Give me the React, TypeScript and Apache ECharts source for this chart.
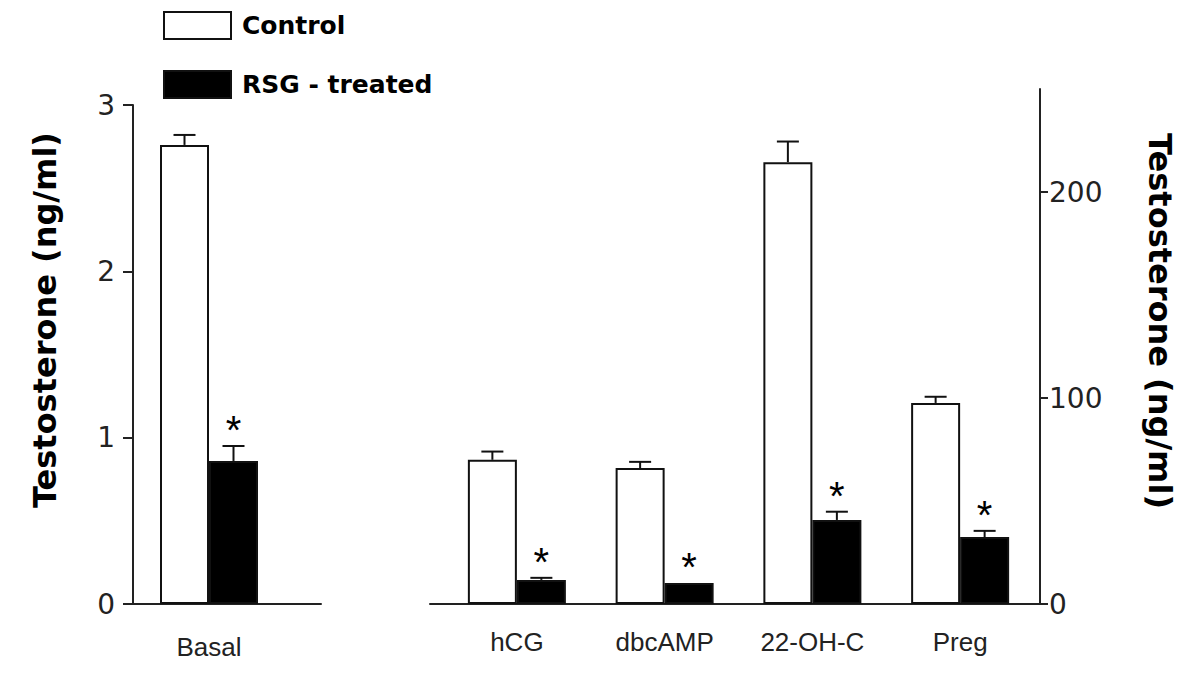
import React, { useEffect, useRef } from 'react';
import * as echarts from 'echarts';

// ---- Data ----
const basalCategories = ['Basal'];
const basalControl = [2.76];
const basalControlErr = [0.06];
const basalRsg = [0.86];
const basalRsgErr = [0.09];
const basalSignificant = [1];

const stimCategories = ['hCG', 'dbcAMP', '22-OH-C', 'Preg'];
const stimControl = [70, 66, 214.5, 97.6];
const stimControlErr = [4, 3, 10, 3];
const stimRsg = [11.7, 10.2, 40.8, 32.5];
const stimRsgErr = [1, 0, 4, 3];
const stimSignificant = [1, 1, 1, 1];

const leftTicks = [0, 1, 2, 3];
const rightTicks = [0, 100, 200];

const legendNames = ['Control', 'RSG - treated'];
const axisTitle = 'Testosterone (ng/ml)';

const BAR_W = 49;
const INK = '#111';

function errorSeries(
  xAxisIndex: number,
  yAxisIndex: number,
  values: number[],
  errs: number[],
  offset: number,
  stars: number[] | null
) {
  return {
    type: 'custom',
    xAxisIndex,
    yAxisIndex,
    silent: true,
    z: 5,
    data: values.map((v, i) => [i, v, errs[i], stars ? stars[i] : 0]),
    renderItem: (params: any, api: any) => {
      const i = api.value(0);
      const v = api.value(1);
      const e = api.value(2);
      const s = api.value(3);
      const base = api.coord([i, v]);
      const top = api.coord([i, v + e]);
      const x = base[0] + offset;
      const children: any[] = [];
      if (e > 0) {
        children.push({
          type: 'line',
          shape: { x1: x, y1: base[1], x2: x, y2: top[1] },
          style: { stroke: INK, lineWidth: 2 },
        });
        children.push({
          type: 'line',
          shape: { x1: x - 11, y1: top[1], x2: x + 11, y2: top[1] },
          style: { stroke: INK, lineWidth: 2 },
        });
      }
      if (s) {
        children.push({
          type: 'text',
          x: x,
          y: top[1] - 16,
          style: {
            text: '*',
            fill: '#000',
            fontSize: 40,
            fontFamily: 'Liberation Sans',
            textAlign: 'center',
            textVerticalAlign: 'middle',
          },
        });
      }
      return { type: 'group', children };
    },
  };
}

const numStyle = { fontFamily: 'DejaVu Sans', fontSize: 28, color: '#222' };
const catStyle = { fontFamily: 'Liberation Sans', fontSize: 26, color: '#222' };
const axisLine = { show: true, lineStyle: { color: '#222', width: 2 } };

export default function App() {
  const ref = useRef<HTMLDivElement>(null);
  useEffect(() => {
    if (!ref.current) return;
    const chart = echarts.init(ref.current, undefined, { renderer: 'svg' });
    const controlStyle = { color: '#fff', borderColor: INK, borderWidth: 2 };
    const rsgStyle = { color: '#000', borderColor: INK, borderWidth: 2 };
    const option: any = {
      animation: false,
      backgroundColor: '#fff',
      legend: {
        data: legendNames,
        orient: 'vertical',
        left: 163,
        top: 11,
        padding: 0,
        itemWidth: 67,
        itemHeight: 27,
        itemGap: 30,
        icon: 'rect',
        selectedMode: false,
        textStyle: {
          fontFamily: 'DejaVu Sans',
          fontWeight: 'bold',
          fontSize: 25,
          lineHeight: 27,
          color: '#000',
          padding: [0, 0, 0, 6],
        },
      },
      grid: [
        { left: 133, top: 105, width: 152, height: 499 },
        { left: 133, top: 105, width: 188, height: 499 },
        { left: 443, top: 89, width: 591, height: 515 },
        { left: 430, top: 89, width: 610, height: 515 },
      ],
      xAxis: [
        {
          gridIndex: 0,
          type: 'category',
          data: basalCategories,
          axisLine: { show: false },
          axisTick: { show: false },
          axisLabel: { ...catStyle, margin: 30 },
        },
        {
          gridIndex: 1,
          type: 'category',
          data: [''],
          axisLine,
          axisTick: { show: false },
          axisLabel: { show: false },
        },
        {
          gridIndex: 2,
          type: 'category',
          data: stimCategories,
          axisLine: { show: false },
          axisTick: { show: false },
          axisLabel: { ...catStyle, margin: 25 },
        },
        {
          gridIndex: 3,
          type: 'category',
          data: [''],
          axisLine,
          axisTick: { show: false },
          axisLabel: { show: false },
        },
      ],
      yAxis: [
        {
          gridIndex: 0,
          type: 'value',
          min: leftTicks[0],
          max: leftTicks[leftTicks.length - 1],
          interval: 1,
          axisLine,
          axisTick: { show: true, length: 10, lineStyle: { color: '#222', width: 2 } },
          axisLabel: { ...numStyle, margin: 18 },
          splitLine: { show: false },
        },
        { gridIndex: 1, type: 'value', min: 0, max: 3, show: false },
        {
          gridIndex: 2,
          type: 'value',
          position: 'right',
          offset: 6,
          min: 0,
          max: 250,
          axisLine,
          axisTick: {
            show: true,
            length: 8,
            customValues: rightTicks,
            lineStyle: { color: '#222', width: 2 },
          },
          axisLabel: { ...numStyle, margin: 9, customValues: rightTicks },
          splitLine: { show: false },
        },
        { gridIndex: 3, type: 'value', min: 0, max: 250, show: false },
      ],
      series: [
        {
          name: legendNames[0],
          type: 'bar',
          xAxisIndex: 0,
          yAxisIndex: 0,
          data: basalControl,
          barWidth: BAR_W,
          barGap: '0%',
          itemStyle: controlStyle,
        },
        {
          name: legendNames[1],
          type: 'bar',
          xAxisIndex: 0,
          yAxisIndex: 0,
          data: basalRsg,
          barWidth: BAR_W,
          barGap: '0%',
          itemStyle: rsgStyle,
        },
        {
          name: legendNames[0],
          type: 'bar',
          xAxisIndex: 2,
          yAxisIndex: 2,
          data: stimControl,
          barWidth: BAR_W,
          barGap: '0%',
          itemStyle: controlStyle,
        },
        {
          name: legendNames[1],
          type: 'bar',
          xAxisIndex: 2,
          yAxisIndex: 2,
          data: stimRsg,
          barWidth: BAR_W,
          barGap: '0%',
          itemStyle: rsgStyle,
        },
        errorSeries(0, 0, basalControl, basalControlErr, -BAR_W / 2, null),
        errorSeries(0, 0, basalRsg, basalRsgErr, BAR_W / 2, basalSignificant),
        errorSeries(2, 2, stimControl, stimControlErr, -BAR_W / 2, null),
        errorSeries(2, 2, stimRsg, stimRsgErr, BAR_W / 2, stimSignificant),
      ],
      graphic: [
        {
          type: 'text',
          x: 45,
          y: 320,
          rotation: Math.PI / 2,
          style: {
            text: axisTitle,
            fill: '#000',
            fontFamily: 'DejaVu Sans',
            fontWeight: 'bold',
            fontSize: 32,
            textAlign: 'center',
            textVerticalAlign: 'middle',
          },
        },
        {
          type: 'text',
          x: 1160,
          y: 321,
          rotation: -Math.PI / 2,
          style: {
            text: axisTitle,
            fill: '#000',
            fontFamily: 'DejaVu Sans',
            fontWeight: 'bold',
            fontSize: 32,
            textAlign: 'center',
            textVerticalAlign: 'middle',
          },
        },
      ],
    };
    chart.setOption(option);
    return () => chart.dispose();
  }, []);
  return (
    <div
      ref={ref}
      style={{ position: 'absolute', left: 0, top: 0, width: 1200, height: 683 }}
    />
  );
}
